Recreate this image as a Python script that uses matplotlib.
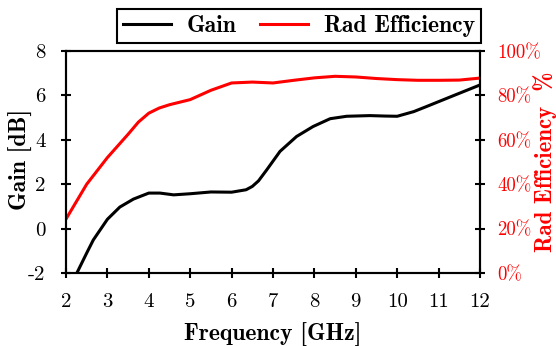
import matplotlib
matplotlib.use("Agg")
import matplotlib.pyplot as plt

# values
freq_gain = [2.0, 2.25, 2.5, 2.66, 3.0, 3.3, 3.63, 4.0, 4.27, 4.6, 5.0, 5.5, 6.0, 6.35,
             6.5, 6.65, 6.85, 7.17, 7.57, 7.97, 8.38, 8.78, 9.34, 9.7, 10.0, 10.4, 10.71,
             11.36, 12.0]
gain = [-3.0, -2.05, -1.1, -0.51, 0.42, 0.97, 1.33, 1.6, 1.6, 1.52, 1.57, 1.65, 1.64, 1.75,
        1.9, 2.15, 2.65, 3.48, 4.15, 4.6, 4.95, 5.06, 5.09, 5.07, 5.06, 5.27, 5.5,
        5.99, 6.47]

freq_eff = [2.0, 2.5, 3.0, 3.5, 3.75, 4.0, 4.25, 4.5, 5.0, 5.5, 6.0, 6.5, 7.0, 7.5, 8.0,
            8.5, 9.0, 9.5, 10.0, 10.5, 11.0, 11.5, 12.0]
eff = [24.3, 40, 52, 62.5, 68, 72, 74.3, 75.8, 78.1, 82.3, 85.6, 86, 85.6, 86.8, 87.9,
       88.6, 88.3, 87.6, 87.1, 86.8, 86.8, 86.9, 87.8]

x_ticks = list(range(2, 13))
gain_ticks = [-2, 0, 2, 4, 6, 8]
eff_ticks = [0, 20, 40, 60, 80, 100]

plt.rcParams['axes.unicode_minus'] = False
reg = 'cmr10'
bold = 'cmb10'
fs_tick = 15
fs_lab = 17

fig = plt.figure(figsize=(5.56, 3.46), dpi=100)
ax = fig.add_axes([66 / 556, 1 - 273 / 346, 414 / 556, 222 / 346])
ax2 = ax.twinx()

l1, = ax.plot(freq_gain, gain, color='black', lw=2.2, label='Gain')
l2, = ax2.plot(freq_eff, eff, color='red', lw=2.2, label='Rad Efficiency')

ax.set_xlim(2, 12)
ax.set_ylim(-2, 8)
ax2.set_ylim(0, 100)
ax.set_xticks(x_ticks)
ax.set_xticklabels([str(t) for t in x_ticks], fontfamily=reg, fontsize=fs_tick)
ax.set_yticks(gain_ticks)
ax.set_yticklabels([str(t) for t in gain_ticks], fontfamily=reg, fontsize=fs_tick)
ax2.set_yticks(eff_ticks)
ax2.set_yticklabels([f"{t}%" for t in eff_ticks], fontfamily=reg, fontsize=13.5, color='red')

for a in (ax, ax2):
    for s in a.spines.values():
        s.set_linewidth(1.5)
ax.tick_params(direction='inout', length=7.5, width=1.5, pad=11)
ax2.tick_params(direction='inout', length=7.5, width=1.5, pad=8.5)

ax.set_xlabel('Frequency [GHz]', fontfamily=bold, fontsize=fs_lab)
ax.set_ylabel('Gain [dB]', fontfamily=bold, fontsize=fs_lab)
ax2.set_ylabel('Rad Efficiency  %', fontfamily=bold, fontsize=16.5, color='red')
ax.xaxis.set_label_coords(0.5, -0.225)
ax.yaxis.set_label_coords(-0.08, 0.51)
ax2.yaxis.set_label_coords(1.129, 0.5)

leg = ax.legend([l1, l2], ['Gain', 'Rad Efficiency'], ncol=2, loc='upper right',
                bbox_to_anchor=(480.7 / 556, 1 - 9.3 / 346), bbox_transform=fig.transFigure,
                borderaxespad=0, fancybox=False, framealpha=1, edgecolor='black',
                prop={'family': bold, 'size': fs_lab}, handlelength=2.05,
                columnspacing=1.0, handletextpad=0.65, borderpad=0.25)
leg.get_frame().set_linewidth(1.5)

fig.savefig('out.png', dpi=100)
